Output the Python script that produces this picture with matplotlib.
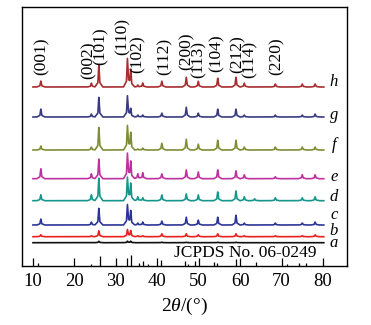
import numpy as np
import matplotlib
matplotlib.use("Agg")
import matplotlib.pyplot as plt

plt.rcParams["font.family"] = ["Liberation Serif", "DejaVu Serif"]
plt.rcParams["mathtext.fontset"] = "custom"
plt.rcParams["mathtext.rm"] = "Liberation Serif"
plt.rcParams["mathtext.it"] = "Liberation Serif:italic"

# ---- data ----
# reflection positions (2theta, deg) shared by all patterns
peak_pos = [11.9, 24.1, 25.9, 32.8, 33.6, 35.3, 36.5, 41.1, 47.0, 49.9,
            54.6, 59.0, 61.0, 63.5, 68.5, 75.0, 78.1]

# peak heights for each sample (a.u.)
int_h = [6, 4, 22, 28, 17, 2, 4, 6, 10, 6, 9, 10, 4, 0, 3, 3, 3]
int_g = [8, 3, 20, 21, 8, 2, 2, 4, 10, 4, 8, 8, 2, 0, 2, 2, 3]
int_f = [4, 3, 23, 24, 17, 1, 2, 7, 11, 6, 10, 10, 3, 0, 3, 3, 3]
int_e = [10, 5, 20, 25, 17, 5, 6, 5, 9, 7, 9, 8, 4, 0, 2, 4, 4]
int_d = [6, 6, 23, 23, 17, 4, 3, 6, 7, 6, 9, 10, 4, 2, 3, 3, 4]
int_c = [6, 3, 17, 20, 14, 2, 3, 4, 8, 5, 8, 10, 2, 0, 2, 2, 3]
int_b = [2, 1, 6, 7, 6, 1, 1, 3, 3, 2, 3, 3, 1, 0, 1, 1, 2]
int_a = [0, 0, 1.5, 1.5, 1.5, 0, 0, 0.5, 0.5, 0, 0.5, 0.5, 0, 0, 0, 0, 0]

sample_names = ["a", "b", "c", "d", "e", "f", "g", "h"]
offsets = [23.3, 29.3, 41, 65.3, 87.3, 116, 149, 179]
label_y = [23.5, 35.5, 51.5, 69.5, 89.5, 121, 151, 184]
colors = ["#111111", "#e8221e", "#2d3597", "#17968c", "#bf329e",
          "#7f8d35", "#393c80", "#a82d30"]

# JCPDS No. 06-0249 reference lines
ref_pos = [11.2, 24.1, 26.1, 32.6, 33.6, 35.7, 36.5, 37.7, 41.0, 46.6,
           47.3, 49.0, 53.8, 54.5, 59.0, 63.8, 71.3, 74.2, 75.9]
ref_int = [3, 2, 10, 8, 11, 3, 5, 2, 6, 5, 2, 5, 4, 3, 7, 4, 2, 3, 3]

hkl = ["(001)", "(002)", "(101)", "(110)", "(102)", "(112)", "(200)",
       "(113)", "(104)", "(212)", "(114)", "(220)"]
hkl_xy = [(12.1, 191), (23.4, 187), (26.3, 201), (31.6, 211), (35.3, 193),
          (41.8, 191), (47.0, 196), (50.0, 188), (54.4, 194), (59.3, 193),
          (62.3, 188), (68.7, 191)]

two_theta = np.linspace(10.0, 80.2, 3000)


def pattern(heights, offset, w=0.95):
    # each reflection drawn as a narrow profile, summed on a common axis
    y = np.zeros_like(two_theta)
    for p, h in zip(peak_pos, heights):
        if h <= 0:
            continue
        y += np.interp(two_theta, [p - w, p - w * 0.25, p, p + w * 0.25, p + w],
                       [0, h * 0.2, h, h * 0.2, 0])
    return y + offset


fig = plt.figure(figsize=(3.71, 3.25), dpi=100)
ax = fig.add_axes([0.0593, 0.1815, 0.876, 0.797])

all_int = [int_a, int_b, int_c, int_d, int_e, int_f, int_g, int_h]
for name, ints, off, ly, col in zip(sample_names, all_int, offsets, label_y, colors):
    ax.plot(two_theta, pattern(ints, off), color=col, lw=1.2)
    ax.text(82.6, ly, name, style="italic", fontsize=12, ha="center", va="center")

ax.vlines(ref_pos, 0, ref_int, color="black", lw=0.9)
ax.text(61.2, 13, "JCPDS No. 06-0249", fontsize=12.5, ha="center", va="center")

for lab, (lx, ly) in zip(hkl, hkl_xy):
    ax.text(lx, ly, lab, rotation=90, fontsize=12.5, ha="center", va="bottom")

ax.set_xlim(7.35, 85.8)
ax.set_ylim(0, 259)
ax.set_xticks([10, 20, 30, 40, 50, 60, 70, 80])
ax.set_yticks([])
ax.tick_params(axis="x", direction="in", length=6, width=0.9, labelsize=13.5, pad=5)
for s in ax.spines.values():
    s.set_linewidth(1.0)
ax.set_xlabel(r"2$\theta$/(°)", fontsize=14, labelpad=4)

fig.savefig("out.png", dpi=100)
